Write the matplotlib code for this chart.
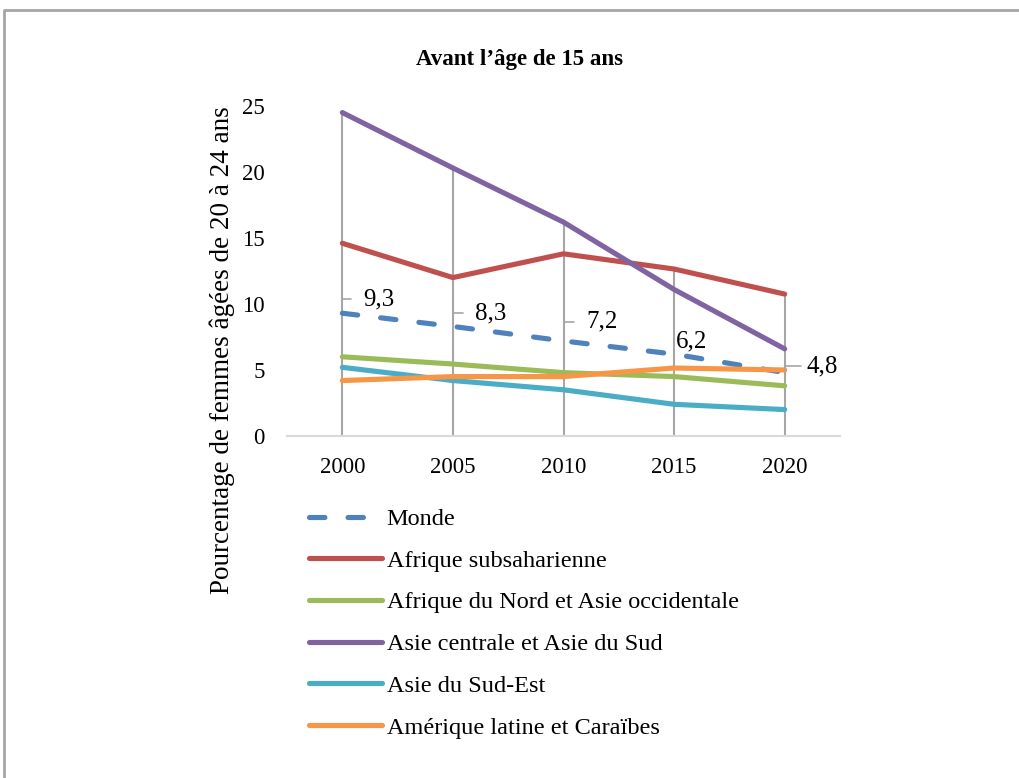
import numpy as np
import matplotlib
matplotlib.use('Agg')
import matplotlib.pyplot as plt
from matplotlib.lines import Line2D

plt.rcParams['font.family'] = ['Liberation Serif', 'DejaVu Serif']

# data
years = [2000, 2005, 2010, 2015, 2020]
monde = [9.3, 8.3, 7.2, 6.2, 4.8]
afrique_sub = [14.6, 12.0, 13.8, 12.65, 10.75]
afrique_nord = [6.0, 5.45, 4.8, 4.5, 3.8]
asie_sud = [24.5, 20.3, 16.2, 11.1, 6.6]
asie_sud_est = [5.2, 4.2, 3.5, 2.4, 2.0]
amerique = [4.2, 4.5, 4.5, 5.15, 5.0]
monde_labels = ['9,3', '8,3', '7,2', '6,2', '4,8']

series = [
    ('Monde', monde, '#4F81BD', (0, (3.0, 4.5))),
    ('Afrique subsaharienne', afrique_sub, '#C0504D', '-'),
    ('Afrique du Nord et Asie occidentale', afrique_nord, '#9BBB59', '-'),
    ('Asie centrale et Asie du Sud', asie_sud, '#8064A2', '-'),
    ('Asie du Sud-Est', asie_sud_est, '#4BACC6', '-'),
    ('Amérique latine et Caraïbes', amerique, '#F79646', '-'),
]

fig = plt.figure(figsize=(10.19, 7.78), dpi=100)
ax = fig.add_axes([0.2817, 0.4396, 0.5426, 0.4242])

# drop lines from the highest point down to the axis
tops = np.max([s[1] for s in series], axis=0)
ax.vlines(years, 0, tops, color='#A6A6A6', lw=1.5, zorder=1)

for name, vals, col, ls in series:
    ax.plot(years, vals, color=col, lw=3.7, ls=ls, label=name,
            solid_capstyle='round', dash_capstyle='round', zorder=2)

# data labels for Monde (leader lines like excel)
offsets = [(37, 14), (38, 13), (38.5, 19), (17, 13), (38, 6.6)]
shrinks = [7, 7, 7, 0, 2]
for i, (x, y) in enumerate(zip(years, monde)):
    arrow = None
    if i != 3:
        arrow = dict(arrowstyle='-', color='#A6A6A6', lw=1.2,
                     connectionstyle='angle,angleA=0,angleB=90,rad=0',
                     shrinkA=shrinks[i], shrinkB=2)
    ax.annotate(monde_labels[i], (x, y), xytext=offsets[i],
                textcoords='offset pixels', ha='center', va='center',
                fontsize=18, arrowprops=arrow, zorder=3)

ax.set_xlim(1997.5, 2022.5)
ax.set_ylim(0, 25)
ax.set_xticks(years)
ax.set_yticks(range(0, 26, 5))
ax.tick_params(length=0, labelsize=16.5)
ax.tick_params(axis='x', pad=15)
ax.tick_params(axis='y', pad=16)
for side in ['top', 'right', 'left']:
    ax.spines[side].set_visible(False)
ax.spines['bottom'].set_color('#D9D9D9')
ax.spines['bottom'].set_linewidth(1.5)

fig.text(520 / 1019, 1 - 60 / 778, 'Avant l’âge de 15 ans', ha='center', va='center',
         fontsize=16.5, fontweight='bold')
fig.text(222 / 1019, 1 - 350 / 778, 'Pourcentage de femmes âgées de 20 à 24 ans',
         rotation=90, ha='center', va='center', fontsize=19.5)

ax.legend(loc='upper left', bbox_to_anchor=(309 / 1019, 1 - 508 / 778),
          bbox_transform=fig.transFigure, frameon=False, fontsize=17.5,
          handlelength=3.0, handletextpad=0.2, labelspacing=0.81,
          borderpad=0, borderaxespad=0)

# outer border
fig.add_artist(Line2D([4 / 1019, 4 / 1019, 1.0], [0.0, 1 - 10 / 778, 1 - 10 / 778],
                      transform=fig.transFigure, color='#A6A6A6', lw=2))

fig.savefig('out.png', dpi=100)
